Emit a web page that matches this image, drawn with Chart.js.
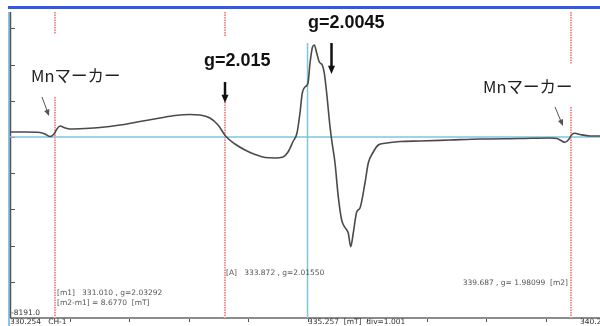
<!DOCTYPE html>
<html>
<head>
<meta charset="utf-8">
<script src="https://cdn.jsdelivr.net/npm/chart.js@4"></script>
<style>
  html, body { margin: 0; padding: 0; background: #fff; }
  canvas { display: block; }
</style>
</head>
<body>
<canvas id="esr" width="600" height="326"></canvas>
<script>
// ESR spectrum, field in mT, intensity in arbitrary units
const field = [330.254, 330.506, 330.758, 330.843, 330.927, 330.994, 331.044, 331.095, 331.162, 331.263,
  331.515, 331.767, 332.104, 332.440, 332.776, 333.029, 333.281, 333.449, 333.617, 333.752,
  333.886, 334.037, 334.206, 334.374, 334.542, 334.710, 334.845, 334.929, 335.013, 335.080,
  335.130, 335.169, 335.215, 335.265, 335.299, 335.341, 335.371, 335.411, 335.455, 335.505,
  335.539, 335.579, 335.635, 335.663, 335.719, 335.774, 335.831, 335.904, 335.942, 335.983,
  336.026, 336.084, 336.139, 336.223, 336.279, 336.363, 336.447, 336.560, 336.812, 337.148,
  337.653, 338.157, 338.830, 339.334, 339.452, 339.519, 339.586, 339.654, 339.704, 339.755,
  339.839, 340.007, 340.175];
const intensity = [226, 226, 204, 136, 23, 136, 362, 498, 430, 362,
  385, 430, 543, 701, 860, 973, 1018, 996, 860, 543,
  23, -317, -588, -792, -928, -950, -905, -679, -204, 181,
  1086, 1991, 2263, 2444, 3349, 4073, 4163, 3801, 3394, 3258,
  2896, 1991, 466, -136, -1177, -2701, -3756, -4163, -4344, -4964,
  -4344, -3394, -3213, -2082, -1177, -679, -362, -285, -204, -181,
  -136, -91, -68, -45, -68, -158, -240, -91, 113, 167,
  113, 45, 45];

const xTicks = [331.255, 332.255, 333.256, 334.256, 335.257, 336.258, 337.258, 338.259, 339.259];
const yTicks = [-6553, -4915, -3276, -1638, 0, 1638, 3276, 4915];
const markers = [331.010, 333.872, 339.687];   // m1, A, m2
const cursorField = 335.257;

const xMin = 330.254, xMax = 340.175;
const yMin = -8191.0, yMax = 5657;

function arrow(ctx, x1, y1, x2, y2, w, head, color) {
  const a = Math.atan2(y2 - y1, x2 - x1);
  ctx.save();
  ctx.strokeStyle = color; ctx.fillStyle = color; ctx.lineWidth = w;
  ctx.beginPath();
  ctx.moveTo(x1, y1);
  ctx.lineTo(x2 - Math.cos(a) * head * 0.6, y2 - Math.sin(a) * head * 0.6);
  ctx.stroke();
  ctx.beginPath();
  ctx.moveTo(x2, y2);
  ctx.lineTo(x2 - head * Math.cos(a - 0.4), y2 - head * Math.sin(a - 0.4));
  ctx.lineTo(x2 - head * Math.cos(a + 0.4), y2 - head * Math.sin(a + 0.4));
  ctx.closePath();
  ctx.fill();
  ctx.restore();
}

const frame = {
  id: 'frame',
  beforeDatasetsDraw(chart) {
    const ctx = chart.ctx, xs = chart.scales.x, ys = chart.scales.y;
    const a = chart.chartArea;
    ctx.save();
    // top blue bar
    ctx.fillStyle = '#3558e8';
    ctx.fillRect(8, 6, 592, 3);
    // left light-blue strip and axis
    ctx.fillStyle = '#8fc3e6';
    ctx.fillRect(8, a.top, 2, 326 - a.top);
    ctx.strokeStyle = '#555';
    ctx.lineWidth = 1.5;
    ctx.beginPath();
    ctx.moveTo(10.5, a.top); ctx.lineTo(10.5, a.bottom);
    ctx.stroke();
    // bottom axis
    ctx.strokeStyle = '#666';
    ctx.beginPath();
    ctx.moveTo(10, a.bottom); ctx.lineTo(600, a.bottom);
    ctx.stroke();
    ctx.lineWidth = 1;
    ctx.strokeStyle = '#555';
    yTicks.forEach(v => {
      const y = Math.round(ys.getPixelForValue(v)) + 0.5;
      ctx.beginPath(); ctx.moveTo(11, y); ctx.lineTo(15, y); ctx.stroke();
    });
    xTicks.forEach(v => {
      const x = Math.round(xs.getPixelForValue(v)) + 0.5;
      ctx.beginPath(); ctx.moveTo(x, a.bottom + 1); ctx.lineTo(x, a.bottom + 4); ctx.stroke();
    });
    // red dotted marker lines
    ctx.strokeStyle = '#f58f8f';
    ctx.setLineDash([1.5, 1]);
    ctx.lineWidth = 2;
    markers.forEach(v => {
      const x = Math.round(xs.getPixelForValue(v));
      ctx.beginPath(); ctx.moveTo(x, a.top); ctx.lineTo(x, a.bottom); ctx.stroke();
    });
    ctx.setLineDash([]);
    // cyan cursor lines
    ctx.strokeStyle = '#7fc4e0';
    ctx.lineWidth = 1.5;
    const y0 = ys.getPixelForValue(0);
    ctx.beginPath(); ctx.moveTo(10, y0); ctx.lineTo(600, y0); ctx.stroke();
    const xc = xs.getPixelForValue(cursorField);
    ctx.beginPath(); ctx.moveTo(xc, 43); ctx.lineTo(xc, a.bottom); ctx.stroke();
    // white label boxes hiding marker lines
    ctx.fillStyle = '#fff';
    ctx.fillRect(28, 34, 100, 63);
    ctx.fillRect(200, 36, 75, 47);
    ctx.fillRect(480, 64, 98, 43);
    ctx.restore();
  },
  afterDraw(chart) {
    const ctx = chart.ctx;
    ctx.save();
    ctx.textBaseline = 'middle';
    ctx.fillStyle = '#222';
    ctx.font = '16.5px "Noto Sans CJK JP"';
    ctx.fillText('Mnマーカー', 31, 76);
    ctx.fillText('Mnマーカー', 483, 87);
    ctx.fillStyle = '#111';
    ctx.font = 'bold 18px "Liberation Sans"';
    ctx.fillText('g=2.015', 204, 61);
    ctx.fillText('g=2.0045', 308, 23);
    arrow(ctx, 42, 97, 49, 116, 1, 7, '#555');
    arrow(ctx, 555, 107, 563, 126, 1, 7, '#555');
    arrow(ctx, 225, 82, 225, 103, 2.5, 9, '#111');
    arrow(ctx, 331.5, 43, 331.5, 74, 2.5, 9, '#111');
    ctx.fillStyle = '#555';
    ctx.font = '7.5px "DejaVu Sans"';
    ctx.fillText('[m1]   331.010 , g=2.03292', 57, 293);
    ctx.fillText('[m2-m1] = 8.6770  [mT]', 57, 303);
    ctx.fillText('[A]   333.872 , g=2.01550', 226, 273);
    ctx.textAlign = 'right';
    ctx.fillText('339.687 , g= 1.98099  [m2]', 568, 283);
    ctx.textAlign = 'left';
    ctx.fillStyle = '#333';
    ctx.fillText('-8191.0', 11, 313);
    ctx.fillText('330.254   CH-1', 10, 322);
    ctx.fillText('335.257  [mT]  div=1.001', 308, 322);
    ctx.fillText('340.25', 580, 322);
    ctx.restore();
  }
};

new Chart(document.getElementById('esr'), {
  type: 'line',
  data: {
    datasets: [{
      data: field.map((f, i) => ({ x: f, y: intensity[i] })),
      borderColor: '#4a4a4a',
      borderWidth: 1.6,
      pointRadius: 0,
      tension: 0,
      cubicInterpolationMode: 'monotone'
    }]
  },
  options: {
    responsive: false,
    animation: false,
    devicePixelRatio: 1,
    layout: { padding: { left: 10, right: 0, top: 12, bottom: 8 } },
    plugins: { legend: { display: false }, tooltip: { enabled: false } },
    scales: {
      x: { type: 'linear', min: xMin, max: xMax, display: false },
      y: { min: yMin, max: yMax, display: false }
    }
  },
  plugins: [frame]
});
</script>
</body>
</html>
